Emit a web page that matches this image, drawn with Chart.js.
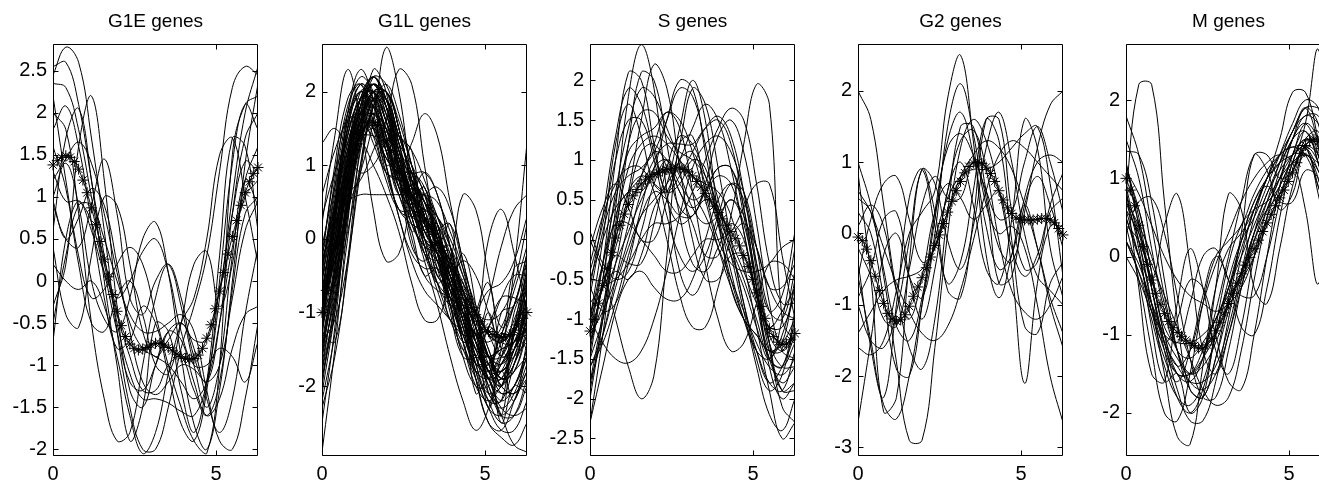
<!DOCTYPE html>
<html>
<head>
<meta charset="utf-8">
<script src="https://cdn.jsdelivr.net/npm/chart.js@4.4.0/dist/chart.umd.min.js"></script>
<style>
  html, body { margin: 0; padding: 0; background: #fff; overflow: hidden; }
  #wrap { position: relative; width: 1319px; height: 487px; overflow: hidden; }
  #wrap canvas { position: absolute; top: 0; }
</style>
</head>
<body>
<div id="wrap"></div>
<script>
// x grid of the thin curves and of the starred mean curve
const xsCurve = [0, 0.393, 0.785, 1.178, 1.571, 1.963, 2.356, 2.749, 3.142, 3.534, 3.927, 4.32, 4.712, 5.105, 5.498, 5.89, 6.283];
const xsMean = [0, 0.131, 0.262, 0.393, 0.524, 0.654, 0.785, 0.916, 1.047, 1.178, 1.309, 1.44, 1.571, 1.702, 1.833, 1.963,
  2.094, 2.225, 2.356, 2.487, 2.618, 2.749, 2.88, 3.011, 3.142, 3.272, 3.403, 3.534, 3.665, 3.796, 3.927, 4.058,
  4.189, 4.32, 4.451, 4.581, 4.712, 4.843, 4.974, 5.105, 5.236, 5.367, 5.498, 5.629, 5.76, 5.89, 6.021, 6.152, 6.283];

const panelTitles = ['G1E genes', 'G1L genes', 'S genes', 'G2 genes', 'M genes'];
const xTickValues = [0, 5];
const yTickLists = [
  [-2, -1.5, -1, -0.5, 0, 0.5, 1, 1.5, 2, 2.5],
  [-2, -1, 0, 1, 2],
  [-2.5, -2, -1.5, -1, -0.5, 0, 0.5, 1, 1.5, 2],
  [-3, -2, -1, 0, 1, 2],
  [-2, -1, 0, 1, 2]
];
const yMins = [-2.08, -2.95, -2.72, -3.12, -2.55];
const yMaxs = [2.82, 2.65, 2.46, 2.66, 2.72];

// G1E
const g1eMean = [1.38, 1.43, 1.47, 1.49, 1.47, 1.42, 1.33, 1.2, 1.05, 0.87, 0.67, 0.47, 0.26, 0.05, -0.16, -0.36,
  -0.53, -0.66, -0.75, -0.8, -0.82, -0.81, -0.79, -0.76, -0.74, -0.74, -0.76, -0.79, -0.83, -0.87, -0.9, -0.92,
  -0.93, -0.92, -0.88, -0.8, -0.68, -0.52, -0.33, -0.12, 0.1, 0.32, 0.53, 0.72, 0.9, 1.05, 1.18, 1.28, 1.35];
const g1eCurves = [
  [2.45, 2.78, 2.6, 1.7, 0.6, -0.6, -1.5, -2.0, -2.0, -1.5, -0.8, -0.3, 0.3, 1.3, 2.3, 2.55, 2.45],
  [2.55, 2.6, 2.1, 1.2, 0.3, -0.5, -1.1, -1.4, -1.4, -1.45, -1.55, -1.6, -1.2, -0.2, 1.0, 2.0, 2.55],
  [1.8, 2.08, 1.6, 0.7, -0.2, -0.8, -0.7, -0.3, -0.5, -1.1, -1.7, -1.9, -1.3, 0.0, 1.4, 2.1, 1.8],
  [0.6, 1.7, 2.05, 1.2, 0.0, -1.0, -1.9, -1.5, -0.5, -0.6, -1.3, -1.8, -1.2, 0.3, 1.7, 1.6, 0.6],
  [-0.3, 0.2, 1.6, 2.2, 1.2, -0.3, -1.3, -1.5, -1.0, -0.6, -0.7, -1.2, -1.6, -1.4, -0.8, -0.4, -0.3],
  [1.2, 1.45, 1.65, 1.4, 0.8, 0.1, -0.5, -0.8, -0.9, -1.0, -1.2, -1.4, -1.2, -0.5, 0.4, 1.0, 1.2],
  [0.9, 0.5, 0.4, 0.9, 1.45, 0.8, -0.2, -0.4, 0.0, 0.2, -0.3, -1.0, -1.5, -1.0, 0.3, 1.2, 0.9],
  [0.95, 0.5, 0.75, 1.1, 0.9, 0.2, -0.6, -1.2, -1.35, -1.2, -1.0, -1.05, -1.2, -1.0, -0.2, 0.6, 0.95],
  [0.4, -0.4, -0.55, 0.3, 1.0, 0.9, 0.2, -0.6, -0.9, -0.7, -0.5, -0.8, -1.4, -1.8, -1.4, -0.4, 0.4],
  [-0.72, 0.5, 0.95, 0.6, 0.1, -0.2, 0.0, 0.35, 0.5, 0.1, -0.6, -1.0, -1.0, -0.8, -0.9, -1.2, -0.72],
  [1.0, 1.4, 0.9, 0.0, -0.45, -0.6, -0.2, 0.5, 0.7, 0.1, -0.9, -1.7, -2.0, -1.3, -0.1, 0.8, 1.0],
  [1.6, 1.1, 0.2, -0.5, -0.6, -0.2, 0.0, -0.4, -1.0, -1.1, -0.5, 0.2, 0.35, -0.3, 0.2, 1.2, 1.6],
  [2.2, 1.2, 0.3, -0.2, -0.1, 0.2, 0.4, 0.2, -0.4, -1.0, -1.5, -1.9, -2.05, -1.0, 1.5, 2.1, 2.2],
  [2.0, 1.8, 0.8, -0.5, -1.4, -1.9, -1.8, -1.0, -0.2, 0.2, -0.2, -0.9, -1.2, -0.5, 0.8, 1.7, 2.0],
  [0.2, 0.0, -0.1, 0.0, -0.3, -0.9, -1.6, -2.05, -1.8, -1.1, -0.5, -0.2, 0.5, 1.5, 1.7, 1.0, 0.2],
  [2.35, 2.3, 1.8, 1.0, 0.2, -0.4, -0.9, -1.3, -1.3, -1.0, -0.9, -1.3, -1.6, -1.2, 0.0, 1.4, 2.35],
  [-0.5, 0.3, 0.9, 0.9, 0.5, 0.0, -0.4, -0.6, -0.6, -0.5, -0.4, -0.6, -1.3, -1.9, -2.0, -1.4, -0.5],
  [1.3, 0.95, 0.95, 0.7, 0.1, -0.6, -1.2, -1.3, -1.0, -0.6, -0.5, -0.7, -0.7, -0.1, 0.8, 1.42, 1.3]
];

// G1L
const g1lMean = [-1.0, -0.7, -0.4, -0.1, 0.2, 0.5, 0.8, 1.05, 1.25, 1.42, 1.52, 1.58, 1.58, 1.54, 1.45, 1.33,
  1.2, 1.06, 0.93, 0.8, 0.68, 0.57, 0.47, 0.37, 0.27, 0.17, 0.06, -0.05, -0.16, -0.27, -0.38, -0.49,
  -0.6, -0.71, -0.82, -0.93, -1.03, -1.12, -1.2, -1.26, -1.3, -1.33, -1.34, -1.33, -1.3, -1.24, -1.17, -1.08, -1.0];
const g1lCurves = [
  [-1.0, 0.3, 1.4, 1.9, 1.9, 1.4, 0.8, 0.4, 0.1, -0.2, -0.6, -1.0, -1.4, -1.7, -1.8, -1.5, -1.0],
  [-0.6, 0.7, 1.7, 2.2, 2.0, 1.4, 0.7, 0.2, -0.1, -0.3, -0.6, -1.1, -1.6, -1.9, -1.8, -1.3, -0.6],
  [-1.5, -0.4, 0.9, 1.8, 2.1, 1.8, 1.1, 0.4, 0.0, -0.1, -0.3, -0.7, -1.3, -1.9, -2.2, -2.0, -1.5],
  [-2.0, -0.8, 0.6, 1.6, 2.0, 1.9, 1.4, 0.8, 0.3, 0.0, -0.3, -0.8, -1.4, -2.0, -2.4, -2.4, -2.0],
  [-0.3, 1.0, 1.9, 2.1, 1.6, 0.9, 0.4, 0.2, 0.1, -0.2, -0.7, -1.3, -1.7, -1.7, -1.4, -0.9, -0.3],
  [-1.2, 0.0, 1.2, 1.9, 2.2, 1.9, 1.2, 0.5, 0.0, -0.2, -0.4, -0.6, -1.0, -1.5, -1.9, -1.8, -1.2],
  [-0.9, -0.1, 0.9, 1.6, 1.7, 1.3, 0.8, 0.5, 0.4, 0.2, -0.2, -0.8, -1.4, -1.7, -1.7, -1.4, -0.9],
  [-2.9, -1.5, 0.2, 1.5, 2.0, 1.7, 1.0, 0.3, -0.2, -0.5, -0.8, -1.2, -1.6, -2.0, -2.4, -2.8, -2.9],
  [1.3, 1.5, 1.2, 0.9, 1.0, 1.3, 1.4, 1.0, 0.3, -0.4, -0.9, -1.3, -1.7, -1.8, -1.5, -0.4, 1.3],
  [-0.5, 0.2, 0.5, 0.6, 0.6, 0.6, 0.6, 0.6, 0.6, 0.5, 0.1, -0.4, -0.9, -1.3, -1.4, -1.1, -0.5],
  [-1.3, -1.4, -0.3, 1.3, 2.3, 2.0, 0.9, -0.1, -0.3, 0.1, 0.2, -0.4, -1.2, -1.8, -2.0, -1.7, -1.3],
  [0.2, 1.4, 2.3, 1.6, 0.4, -0.3, -0.2, 0.5, 0.9, 0.6, -0.1, -0.7, -1.0, -1.1, -1.0, -0.6, 0.2],
  [-1.0, -0.3, 0.4, 0.9, 1.6, 2.6, 2.0, 0.8, 0.1, -0.2, -0.5, -0.8, -1.2, -1.6, -1.8, -1.5, -1.0],
  [-0.7, 0.2, 0.6, 0.8, 1.2, 1.6, 2.3, 2.1, 1.0, 0.0, -0.6, -0.9, -1.1, -1.3, -1.4, -1.2, -0.7],
  [-1.8, -0.9, 0.4, 1.3, 1.5, 1.2, 0.9, 1.3, 1.7, 1.4, 0.5, -0.3, -1.0, -1.6, -2.0, -2.1, -1.8],
  [-0.2, 0.4, 1.0, 1.5, 1.7, 1.5, 1.0, 0.4, -0.1, -0.6, -0.3, 0.6, 0.4, -0.5, -1.2, -0.9, -0.2],
  [-1.0, -0.6, 0.5, 1.7, 2.2, 1.9, 1.2, 0.6, 0.2, -0.3, -0.9, -1.4, -1.2, 0.0, 0.4, -0.2, -1.0],
  [-2.2, -1.3, 0.0, 1.2, 1.9, 2.0, 1.5, 0.7, 0.0, -0.6, -1.1, -1.5, -1.9, -2.3, -2.6, -2.6, -2.2],
  [-0.4, 0.5, 1.2, 1.5, 1.4, 1.1, 0.9, 0.8, 0.5, 0.0, -0.6, -1.1, -1.4, -1.6, -1.7, -1.3, -0.4],
  [-1.1, 0.3, 1.7, 2.3, 1.9, 1.0, 0.4, 0.3, 0.4, 0.2, -0.3, -1.0, -1.7, -2.2, -2.2, -1.7, -1.1],
  [-1.6, -0.5, 0.9, 1.8, 1.9, 1.5, 1.0, 0.7, 0.5, 0.1, -0.6, -1.4, -2.0, -2.2, -2.0, -1.8, -1.6],
  [-0.8, -0.6, 0.1, 1.0, 1.8, 2.1, 1.7, 1.0, 0.3, -0.3, -0.7, -1.0, -1.3, -1.6, -1.6, -1.2, -0.8],
  [0.3, 0.9, 1.3, 1.4, 1.4, 1.3, 1.0, 0.5, -0.1, -0.7, -1.1, -1.2, -1.0, -0.7, -0.6, -0.3, 0.3],
  [-2.5, -1.2, 0.5, 1.7, 2.1, 1.8, 1.2, 0.6, 0.1, -0.2, -0.6, -1.2, -1.9, -2.5, -2.7, -2.8, -2.5],
  [-1.2, -0.1, 1.0, 1.6, 1.5, 1.1, 0.9, 0.9, 0.7, 0.2, -0.5, -1.1, -1.5, -1.6, -1.5, -1.4, -1.2],
  [-0.9, 0.5, 1.5, 1.7, 1.3, 0.9, 0.8, 0.8, 0.5, -0.2, -1.0, -1.6, -1.6, -1.2, -0.8, -0.8, -0.9],
  [-1.4, -1.1, -0.3, 0.9, 1.8, 2.0, 1.5, 0.8, 0.5, 0.3, -0.1, -0.7, -1.4, -1.8, -1.8, -1.6, -1.4],
  [-0.1, 0.7, 1.4, 1.9, 2.0, 1.6, 0.8, 0.0, -0.5, -0.7, -0.8, -1.0, -1.3, -1.4, -1.2, -0.7, -0.1],
  [-1.7, -0.7, 0.7, 1.8, 2.2, 1.8, 0.9, 0.2, -0.1, -0.2, -0.5, -1.1, -1.9, -2.5, -2.6, -2.2, -1.7],
  [-1.0, 0.0, 0.9, 1.4, 1.6, 1.5, 1.4, 1.2, 0.8, 0.3, -0.1, -0.5, -1.0, -1.5, -1.9, -1.7, -1.0],
  [-0.5, 0.8, 1.8, 2.1, 1.7, 1.0, 0.3, -0.2, -0.4, -0.4, -0.6, -1.0, -1.3, -1.2, -0.8, -0.5, -0.5],
  [-1.9, -1.0, 0.3, 1.4, 1.9, 1.9, 1.4, 0.9, 0.5, 0.3, 0.0, -0.5, -1.1, -1.6, -2.0, -2.1, -1.9],
  [-1.3, 0.2, 1.3, 1.7, 1.4, 0.8, 0.4, 0.4, 0.6, 0.7, 0.4, -0.3, -1.0, -1.6, -1.9, -1.8, -1.3],
  [-0.7, -0.2, 0.8, 1.8, 2.1, 1.8, 1.3, 1.0, 0.6, 0.0, -0.7, -1.4, -1.8, -1.7, -1.3, -0.9, -0.7],
  [-2.3, -1.6, -0.4, 1.0, 1.8, 1.9, 1.4, 0.9, 0.5, 0.1, -0.4, -1.0, -1.5, -1.9, -2.3, -2.4, -2.3],
  [-1.1, -0.2, 0.7, 1.5, 2.0, 2.0, 1.5, 0.7, -0.1, -0.6, -0.9, -0.9, -1.0, -1.3, -1.6, -1.5, -1.1],
  [-0.3, 0.3, 1.1, 1.7, 1.9, 1.6, 1.0, 0.3, -0.2, -0.3, -0.3, -0.6, -1.2, -1.8, -2.0, -1.2, -0.3],
  [-1.6, -0.4, 1.1, 2.0, 2.0, 1.4, 0.7, 0.4, 0.3, 0.1, -0.4, -1.0, -1.6, -2.1, -2.3, -2.1, -1.6],
  [-0.9, -0.5, 0.4, 1.3, 1.7, 1.5, 1.1, 0.9, 0.9, 0.6, -0.1, -0.9, -1.5, -1.8, -1.6, -1.2, -0.9],
  [-1.2, 0.4, 1.6, 2.0, 1.6, 1.1, 0.9, 0.9, 0.6, -0.1, -0.9, -1.6, -2.0, -2.0, -1.7, -1.4, -1.2],
  [-1.5, -0.6, 0.6, 1.5, 1.8, 1.5, 0.9, 0.3, -0.3, -0.9, -1.6, -2.2, -2.6, -2.3, -1.6, -1.3, -1.5],
  [-1.0, 0.1, 1.0, 1.3, 1.0, 0.6, 0.1, -0.6, -1.1, -1.1, -0.6, -0.3, -0.5, -1.0, -1.4, -1.4, -1.0],
  [0.6, 1.2, 1.6, 1.7, 1.5, 1.0, 0.3, -0.3, -0.7, -0.9, -1.1, -1.3, -1.3, -0.8, -0.1, 0.4, 0.6],
  [-0.8, 0.0, 1.1, 1.9, 2.0, 1.6, 1.2, 0.8, 0.4, -0.2, -0.8, -1.4, -1.8, -1.9, -1.7, -1.3, -0.8],
  [-0.9, 0.2, 1.2, 1.8, 1.8, 1.3, 0.7, 0.6, 0.3, -0.5, -0.6, -0.2, -0.9, -2.1, -2.2, -1.2, -0.9],
  [-1.3, -0.2, 1.0, 1.9, 2.1, 1.7, 1.0, 0.4, 0.0, -0.3, -0.8, -1.3, -1.6, -1.6, -1.5, -1.4, -1.3],
  [-0.6, 0.5, 1.5, 2.0, 1.8, 1.2, 0.6, 0.1, -0.5, -0.4, -0.9, -1.5, -1.0, -0.6, -1.5, -1.6, -0.6],
  [-1.8, -0.6, 0.8, 1.7, 2.0, 1.6, 1.0, 0.5, 0.3, 0.0, -0.5, -1.1, -1.8, -2.3, -2.4, -2.2, -1.8],
  [-1.0, -0.2, 0.8, 1.6, 1.9, 1.8, 1.3, 0.5, 0.6, 0.1, -0.9, -0.8, -1.5, -1.0, -1.6, -1.4, -1.0],
  [-0.4, 0.6, 1.6, 2.1, 1.9, 1.2, 0.6, 0.3, 0.2, 0.0, -0.4, -0.9, -1.4, -1.8, -1.9, -1.3, -0.4],
  [-1.4, -0.4, 0.7, 1.4, 1.6, 1.0, 1.1, 0.6, 0.7, 0.0, -0.2, -1.3, -1.3, -2.3, -1.8, -2.2, -1.4],
  [-0.8, 0.4, 1.4, 1.9, 2.0, 1.6, 1.1, 0.6, 0.2, -0.2, -0.5, -0.8, -1.2, -1.6, -1.8, -1.5, -0.8],
  [-2.1, -1.0, 0.4, 1.5, 2.0, 1.8, 1.2, 0.9, 0.0, -0.2, -1.1, -0.8, -1.7, -1.7, -2.5, -2.0, -2.1],
  [-1.1, 0.0, 1.1, 1.8, 2.1, 1.9, 1.3, 0.5, -0.2, -0.6, -0.8, -0.9, -1.2, -1.6, -1.9, -1.7, -1.1],
  [-0.5, -0.1, 0.7, 1.5, 1.9, 1.7, 1.1, 0.3, 0.6, -0.1, 0.2, -0.8, -1.0, -1.9, -1.3, -1.3, -0.5],
  [-1.6, -0.8, 0.3, 1.3, 1.9, 2.0, 1.6, 1.0, 0.4, -0.1, -0.5, -0.9, -1.4, -1.9, -2.1, -2.0, -1.6],
  [-0.2, 0.9, 1.7, 1.9, 1.5, 0.9, 0.8, 0.1, 0.3, -0.5, -0.4, -1.4, -1.3, -1.9, -1.0, -0.9, -0.2],
  [-1.2, -0.5, 0.5, 1.5, 2.2, 2.1, 1.5, 0.8, 0.3, 0.0, -0.3, -0.7, -1.2, -1.6, -1.7, -1.5, -1.2],
  [-0.7, 0.3, 1.3, 1.7, 1.6, 1.2, 0.6, 0.8, 0.1, 0.2, -0.9, -1.0, -2.1, -1.9, -2.4, -1.2, -0.7],
  [-1.5, -0.3, 1.0, 1.9, 2.2, 1.8, 1.1, 0.5, 0.0, -0.4, -0.7, -1.0, -1.3, -1.7, -2.1, -2.0, -1.5],
  [-0.9, 0.1, 1.1, 1.6, 1.7, 1.4, 1.1, 0.5, 0.7, -0.1, -0.1, -1.0, -1.0, -1.8, -1.3, -1.5, -0.9],
  [-1.9, -0.9, 0.5, 1.6, 2.1, 1.9, 1.3, 0.7, 0.2, -0.2, -0.6, -1.1, -1.7, -2.2, -2.5, -2.4, -1.9],
  [-0.3, 0.4, 1.2, 1.7, 1.8, 1.5, 0.8, 0.9, 0.1, 0.1, -0.8, -0.9, -1.7, -1.2, -1.3, -0.4, -0.3],
  [-1.2, 0.2, 1.5, 2.1, 1.9, 1.3, 0.7, 0.4, 0.2, -0.1, -0.6, -1.2, -1.8, -2.1, -2.0, -1.6, -1.2],
  [-0.6, -0.3, 0.5, 1.4, 2.0, 2.0, 1.4, 1.2, 0.2, 0.2, -0.7, -0.7, -1.6, -1.6, -2.0, -1.0, -0.6],
  [-1.0, 0.3, 1.5, 2.0, 1.8, 1.3, 0.9, 0.7, 0.6, 0.3, -0.3, -1.0, -1.6, -1.9, -1.9, -1.5, -1.0]
];

// S
const sMean = [-1.15, -1.0, -0.8, -0.58, -0.36, -0.16, 0.02, 0.18, 0.32, 0.44, 0.55, 0.63, 0.7, 0.75, 0.79, 0.82,
  0.84, 0.86, 0.88, 0.89, 0.9, 0.9, 0.88, 0.85, 0.8, 0.73, 0.66, 0.58, 0.5, 0.42, 0.34, 0.26,
  0.18, 0.1, 0.01, -0.08, -0.2, -0.34, -0.5, -0.67, -0.84, -0.99, -1.12, -1.22, -1.29, -1.32, -1.31, -1.26, -1.18];
const sCurves = [
  [-1.8, -0.9, 0.4, 1.8, 2.45, 1.9, 0.6, -0.4, -0.7, -0.4, 0.2, 0.5, 0.2, -0.6, -1.4, -1.9, -1.8],
  [-1.2, -0.3, 1.0, 2.1, 2.0, 1.2, 0.5, 0.2, 0.3, 0.5, 0.4, -0.1, -0.8, -1.4, -1.8, -1.6, -1.2],
  [-0.9, -0.6, 0.1, 1.2, 2.1, 2.0, 1.2, 0.3, -0.3, -0.4, -0.1, 0.2, 0.0, -0.7, -1.5, -1.6, -0.9],
  [-0.5, -0.5, -0.1, 0.6, 1.5, 2.2, 1.9, 0.9, 0.0, -0.5, -0.5, -0.2, -0.2, -0.7, -1.4, -1.3, -0.5],
  [-1.4, -0.5, 0.3, 0.6, 0.6, 0.9, 1.5, 2.0, 1.9, 1.1, 0.2, -0.5, -1.0, -1.4, -1.8, -1.9, -1.4],
  [-1.0, -0.6, -0.4, -0.5, -0.2, 0.4, 0.7, 1.4, 2.0, 1.5, 0.3, -0.6, -1.0, -1.2, -1.4, -1.3, -1.0],
  [-0.6, 0.3, 1.3, 1.9, 1.7, 1.1, 0.6, 0.7, 1.0, 0.9, 0.3, -0.4, -1.0, -1.4, -1.5, -1.2, -0.6],
  [-1.3, -0.8, -0.3, 0.1, 0.5, 0.8, 0.9, 0.6, 0.2, -0.2, -0.2, 0.3, 1.2, 1.95, 1.7, -1.0, -1.3],
  [-1.6, -1.2, -0.6, -0.1, 0.3, 0.5, 0.7, 1.0, 1.4, 1.7, 1.5, 0.9, 0.1, -0.8, -1.5, -1.8, -1.6],
  [-0.8, -0.6, -0.5, -0.3, 0.0, 0.2, 0.2, 0.3, 0.6, 1.0, 1.4, 1.65, 1.5, 0.7, -0.3, -0.8, -0.8],
  [-1.9, -1.0, 0.0, 0.6, 0.8, 0.7, 0.6, 0.8, 1.1, 1.4, 1.55, 1.3, 0.6, -0.4, -1.3, -1.9, -1.9],
  [-1.5, -1.0, -0.3, 0.5, 1.1, 1.2, 0.9, 0.4, 0.3, 0.7, 1.3, 1.5, 1.1, 0.2, -0.8, -1.4, -1.5],
  [-1.1, -0.3, 0.5, 1.1, 1.3, 1.4, 1.6, 1.5, 1.1, 0.5, -0.1, -0.6, -1.0, -1.2, -1.4, -1.4, -1.1],
  [0.0, -0.4, -1.0, -1.6, -2.0, -1.7, -0.2, 1.2, 1.3, 0.6, 0.0, -0.3, -0.4, -0.4, -0.3, -0.1, 0.0],
  [-1.0, -1.3, -1.5, -1.55, -1.4, -1.0, -0.4, 0.3, 0.9, 1.2, 1.3, 1.1, 0.6, -0.1, -0.6, -0.9, -1.0],
  [-0.3, 0.3, 0.7, 0.9, 0.9, 0.6, 0.0, -0.7, -1.1, -1.1, -0.6, 0.0, 0.2, -0.1, -0.6, -0.6, -0.3],
  [-0.5, 0.0, 0.4, 0.6, 0.8, 1.2, 1.6, 1.4, 0.6, -0.3, -1.0, -1.4, -1.3, -0.8, -0.3, -0.3, -0.5],
  [-2.3, -1.6, -0.9, -0.5, -0.4, -0.6, -0.75, -0.75, -0.5, 0.0, 0.5, 0.7, 0.5, -0.3, -1.3, -2.1, -2.3],
  [-1.0, -0.3, 0.2, 0.2, 0.0, -0.2, -0.4, -0.4, -0.2, 0.0, 0.0, 0.1, 0.4, 0.7, 0.7, -0.2, -1.0],
  [-0.1, 0.4, 0.7, 0.4, 0.0, 0.0, 0.5, 1.0, 1.1, 0.7, 0.2, -0.2, -0.6, -1.1, -1.5, -1.0, -0.1],
  [-2.0, -1.0, 0.2, 1.2, 1.6, 1.6, 1.3, 1.1, 1.0, 0.8, 0.4, -0.2, -0.9, -1.6, -2.2, -2.4, -2.0],
  [-1.5, -0.5, 0.6, 1.4, 1.9, 1.8, 1.4, 1.0, 0.6, 0.3, -0.1, -0.5, -0.9, -1.3, -1.6, -1.7, -1.5],
  [-2.3, -1.2, 0.1, 0.9, 1.2, 1.3, 1.2, 1.0, 0.8, 0.7, 0.6, 0.3, -0.3, -1.1, -1.9, -2.5, -2.3],
  [-0.7, 0.1, 0.6, 0.8, 0.9, 1.1, 1.5, 1.9, 1.8, 1.2, 0.5, 0.0, -0.4, -0.8, -1.1, -1.1, -0.7],
  [-1.2, -0.9, -0.5, 0.0, 0.6, 1.0, 1.2, 1.2, 1.2, 1.4, 1.5, 1.2, 0.4, -0.5, -1.2, -1.4, -1.2],
  [0.1, -0.3, -0.5, -0.4, 0.1, 0.7, 1.0, 0.8, 0.4, 0.2, 0.3, 0.5, 0.3, -0.3, -0.9, -0.7, 0.1],
  [-1.8, -1.2, -0.5, 0.2, 0.8, 1.1, 1.0, 0.6, 0.4, 0.6, 0.9, 0.9, 0.4, -0.6, -1.6, -2.0, -1.8],
  [-1.3, -0.6, -0.2, -0.3, -0.3, 0.2, 0.9, 1.3, 1.2, 0.8, 0.3, -0.1, -0.5, -1.0, -1.5, -1.6, -1.3],
  [-0.6, -0.9, -0.8, -0.3, 0.4, 0.9, 1.0, 0.7, 0.5, 0.6, 0.8, 0.7, 0.1, -0.7, -1.1, -0.9, -0.6],
  [-1.0, 0.0, 1.2, 1.7, 1.3, 0.7, 0.6, 1.2, 1.9, 1.7, 0.9, 0.0, -0.8, -1.5, -1.9, -1.7, -1.0],
  [-1.6, -1.3, -0.8, -0.2, 0.3, 0.6, 0.5, 0.3, 0.3, 0.6, 0.9, 0.9, 0.3, -0.6, -1.3, -1.6, -1.6],
  [-0.4, 0.2, 1.0, 1.5, 1.5, 1.0, 0.3, -0.2, -0.4, -0.2, 0.3, 0.7, 0.6, -0.1, -0.9, -1.0, -0.4]
];

// G2
const g2Mean = [-0.05, -0.1, -0.22, -0.38, -0.6, -0.8, -0.98, -1.12, -1.2, -1.23, -1.21, -1.14, -1.02, -0.88, -0.75, -0.62,
  -0.48, -0.33, -0.17, -0.02, 0.14, 0.3, 0.45, 0.6, 0.73, 0.85, 0.94, 0.99, 1.0, 0.98, 0.93, 0.84,
  0.73, 0.6, 0.47, 0.36, 0.28, 0.22, 0.2, 0.19, 0.19, 0.19, 0.2, 0.21, 0.21, 0.19, 0.15, 0.07, -0.02];
const g2Curves = [
  [2.0, 1.6, 0.4, -0.8, -1.6, -1.9, -1.2, 0.3, 1.5, 1.5, 0.6, -0.2, -0.4, 0.3, 1.2, 1.8, 2.0],
  [1.0, 0.4, -0.5, -1.3, -1.5, -0.9, 0.2, 1.3, 1.7, 1.1, 0.1, -0.5, -0.3, 0.5, 1.0, 1.1, 1.0],
  [-1.6, -1.7, -1.5, -0.8, 0.0, 0.3, 0.6, 1.9, 2.5, 1.3, -0.3, -0.9, -0.3, 0.4, -0.2, -1.0, -1.6],
  [-2.65, -1.5, -0.3, 0.0, -0.6, -0.9, 0.0, 1.5, 2.1, 1.4, 0.4, 0.0, 0.1, -0.2, -1.0, -2.0, -2.65],
  [0.5, 0.3, -0.6, -1.8, -2.9, -2.9, -1.6, 0.0, 1.2, 1.6, 1.3, 0.6, -0.2, -0.6, -0.3, 0.3, 0.5],
  [0.85, -0.6, -2.5, -2.3, -0.4, 0.9, 0.3, -0.8, -0.9, 0.2, 1.6, 1.6, 0.3, -0.5, -0.4, 0.4, 0.85],
  [-0.4, -1.6, -2.3, -1.0, 0.5, 0.9, 0.1, -0.7, -0.4, 0.6, 1.6, 1.3, -0.1, -1.3, -1.4, -0.7, -0.4],
  [0.3, 0.0, -0.9, -1.9, -2.0, -1.0, 0.3, 1.2, 1.4, 1.1, 0.6, 0.2, 0.3, 1.0, 1.5, 1.0, 0.3],
  [0.1, 0.4, 0.1, -0.8, -1.2, -0.6, 0.3, 0.7, 0.5, 0.2, 0.4, 0.6, -0.5, -2.1, -0.7, 0.1, 0.1],
  [0.6, 0.3, -0.2, -0.7, -1.1, -1.4, -1.5, -1.3, -0.8, -0.1, 0.6, 1.1, 1.3, 1.2, 1.0, 0.8, 0.6],
  [-1.4, -1.1, -0.8, -0.65, -0.6, -0.5, -0.2, 0.3, 0.8, 1.1, 1.3, 1.2, 0.9, 0.4, -0.2, -0.9, -1.4],
  [-0.9, -0.5, 0.2, 0.3, -0.6, -1.2, -0.5, 0.6, 1.0, 0.4, -0.5, -0.7, 0.2, 1.6, 1.2, -0.2, -0.9],
  [-0.6, 0.2, 0.7, 0.8, 0.2, -0.4, -0.2, 0.6, 1.3, 1.45, 0.9, -0.1, -0.8, -1.1, -1.2, -1.0, -0.6],
  [-1.0, -1.5, -1.6, -1.1, -0.1, 0.9, 0.7, -0.1, -0.5, 0.1, 1.2, 1.7, 1.0, 0.0, -0.6, -0.8, -1.0],
  [-0.2, -0.6, -1.2, -1.3, -0.5, 0.4, 0.8, 0.5, 0.5, 1.0, 0.5, -0.7, -0.6, 0.4, 0.8, 0.4, -0.2],
  [-0.6, -1.5, -2.4, -2.6, -2.0, -1.0, -0.1, 0.5, 0.8, 0.9, 0.9, 1.0, 1.2, 1.4, 1.5, 0.7, -0.6]
];

// M
const mMean = [1.0, 0.85, 0.65, 0.4, 0.13, -0.1, -0.3, -0.47, -0.61, -0.73, -0.83, -0.91, -0.97, -1.02, -1.07, -1.11,
  -1.14, -1.17, -1.17, -1.13, -1.05, -0.95, -0.84, -0.72, -0.6, -0.47, -0.34, -0.22, -0.11, -0.01, 0.1, 0.21,
  0.32, 0.43, 0.54, 0.65, 0.75, 0.85, 0.96, 1.07, 1.2, 1.32, 1.42, 1.48, 1.5, 1.47, 1.38, 1.22, 1.02];
const mCurves = [
  [0.8, 2.2, 2.2, 0.7, -0.8, -1.7, -1.8, -1.3, -0.7, -0.2, 0.3, 0.7, 1.0, 1.2, 1.3, 1.1, 0.8],
  [1.8, 1.3, 0.4, -0.5, -1.2, -1.6, -1.7, -1.5, -1.0, -0.4, 0.2, 0.7, 1.2, 1.6, 1.9, 1.9, 1.8],
  [1.35, 1.3, 0.7, -0.3, -1.2, -1.7, -1.8, -1.3, -0.5, 0.2, 0.7, 1.0, 1.2, 1.5, 1.8, 1.7, 1.35],
  [0.5, 0.0, -0.3, 0.4, 0.8, -0.1, -1.2, -1.5, -1.0, -0.3, 0.3, 0.6, 0.8, 1.1, 1.4, 1.2, 0.5],
  [0.9, -0.4, -1.5, -1.6, -0.6, 0.1, -0.4, -1.2, -1.5, -0.9, 0.0, 0.6, 1.0, 1.5, 1.9, 1.7, 0.9],
  [0.6, 0.0, -0.7, -1.3, -1.6, -1.2, -0.5, 0.0, -0.3, -0.9, -1.0, -0.4, 0.5, 1.2, 1.5, 1.3, 0.6],
  [0.2, -0.2, -0.6, -1.0, -1.3, -1.5, -1.3, -0.4, 0.8, 0.6, -0.4, -0.6, 0.1, 0.9, 1.3, 1.0, 0.2],
  [1.1, 0.6, -0.2, -1.0, -1.5, -1.6, -1.3, -0.7, 0.0, 0.7, 1.3, 1.3, 1.0, 1.1, 1.5, 1.6, 1.1],
  [0.2, -0.2, -0.8, -1.4, -1.8, -1.9, -1.6, -1.0, -0.4, 0.2, 0.7, 0.9, 0.7, 0.7, 1.1, 1.0, 0.2],
  [0.8, 0.3, -0.4, -1.1, -1.7, -2.1, -2.1, -1.6, -0.8, 0.0, 0.6, 1.0, 1.5, 2.1, 2.1, 1.5, 0.8],
  [1.2, 0.5, -0.4, -1.2, -1.8, -2.0, -1.7, -1.0, -0.3, 0.2, 0.5, 0.9, 1.3, 1.7, 2.0, 1.9, 1.2],
  [1.2, 0.4, -0.4, -1.1, -1.5, -1.5, -1.2, -0.8, -0.5, -0.3, 0.0, 0.4, 0.8, 1.2, 1.7, 2.65, 1.2],
  [0.9, 0.6, -0.2, -1.0, -1.4, -1.2, -0.6, -0.1, 0.3, 0.7, 1.0, 1.2, 1.3, 1.2, 0.6, -0.35, 0.9],
  [0.7, 0.2, -0.6, -1.5, -2.3, -2.4, -1.4, -0.4, 0.1, 0.3, 0.6, 1.0, 1.3, 1.4, 1.4, 1.1, 0.7],
  [0.4, -0.3, -1.2, -2.0, -2.1, -1.5, -0.6, 0.0, 0.2, 0.4, 0.8, 1.1, 1.3, 1.4, 1.3, 0.9, 0.4],
  [0.6, 0.3, -0.1, -0.5, -0.9, -1.3, -1.7, -1.9, -1.8, -1.2, -0.3, 0.5, 1.1, 1.5, 1.6, 1.2, 0.6],
  [1.1, 0.8, 0.4, 0.0, -0.3, -0.5, -0.6, -0.7, -0.6, -0.4, 0.0, 0.5, 0.9, 1.2, 1.3, 1.2, 1.1],
  [0.4, 0.2, -0.3, -0.9, -1.1, -0.6, 0.0, 0.1, -0.3, -0.5, -0.5, 0.0, 0.7, 1.3, 1.6, 1.2, 0.4],
  [0.9, 0.2, -0.6, -1.2, -1.5, -1.5, -1.3, -1.0, -0.6, -0.2, 0.2, 0.6, 1.0, 1.3, 1.5, 1.4, 0.9],
  [0.3, 0.7, 0.75, 0.3, -0.5, -1.3, -1.8, -1.8, -1.2, -0.4, 0.3, 0.8, 1.1, 1.3, 1.4, 0.9, 0.3],
  [0.5, 0.0, -0.7, -1.1, -0.8, -0.3, -0.4, -1.0, -1.6, -1.7, -1.0, 0.0, 0.9, 1.5, 1.7, 1.3, 0.5],
  [0.7, 0.4, 0.0, -0.6, -1.2, -1.5, -1.4, -1.1, -0.6, 0.3, 1.3, 1.1, 0.6, 0.8, 1.4, 1.3, 0.7],
  [0.2, -0.1, -0.6, -1.1, -1.4, -1.6, -1.6, -1.4, -0.9, -0.2, 0.5, 1.0, 1.3, 1.6, 1.9, 1.4, 0.2],
  [1.5, 1.0, 0.1, -0.7, -1.2, -1.3, -1.1, -0.8, -0.4, 0.0, 0.4, 0.8, 1.2, 1.6, 1.8, 1.8, 1.5],
  [0.8, 0.1, -0.9, -1.6, -1.5, -2.0, -1.8, -0.9, -0.1, 0.4, 0.6, 0.7, 0.9, 1.3, 1.7, 1.5, 0.8],
  [0.0, -0.3, -0.7, -1.0, -1.1, -1.1, -1.0, -0.8, -0.4, 0.1, 0.6, 1.0, 1.2, 1.3, 1.4, 0.8, 0.0]
];

const panelCurves = [g1eCurves, g1lCurves, sCurves, g2Curves, mCurves];
const panelMeans = [g1eMean, g1lMean, sMean, g2Mean, mMean];

// layout (pixels)
const BOX_LEFTS = [53, 322, 590, 858, 1126];
const BOX_W = 205;
const AXIS_W = 53;
const PAD_R = 10;
const CANVAS_H = 487;
const BOX_BOTTOM = 456;
const FONT = "'Liberation Sans', Arial, Helvetica, sans-serif";

// box round the plot area, with short ticks pointing inwards like MATLAB
const frameTicks = {
  id: 'frameTicks',
  afterDatasetsDraw(chart) {
    const { ctx, chartArea: a, scales } = chart;
    const l = Math.round(a.left) + 0.5, r = Math.round(a.right) - 0.5;
    const t = Math.round(a.top) + 0.5, b = Math.round(a.bottom) - 0.5;
    ctx.save();
    ctx.strokeStyle = '#000';
    ctx.lineWidth = 1;
    ctx.beginPath();
    ctx.rect(l, t, r - l, b - t);
    scales.y.ticks.forEach(tk => {
      const py = Math.round(scales.y.getPixelForValue(tk.value)) + 0.5;
      ctx.moveTo(l, py); ctx.lineTo(l + 5, py);
      ctx.moveTo(r, py); ctx.lineTo(r - 5, py);
    });
    scales.x.ticks.forEach(tk => {
      const px = Math.round(scales.x.getPixelForValue(tk.value)) + 0.5;
      ctx.moveTo(px, b); ctx.lineTo(px, b - 5);
      ctx.moveTo(px, t); ctx.lineTo(px, t + 5);
    });
    ctx.stroke();
    ctx.restore();
  }
};

function toPoints(xs, ys) {
  return xs.map((x, i) => ({ x: x, y: ys[i] }));
}

function buildPanel(k) {
  const canvas = document.createElement('canvas');
  canvas.width = AXIS_W + BOX_W + PAD_R;
  canvas.height = CANVAS_H;
  canvas.style.left = (BOX_LEFTS[k] - AXIS_W) + 'px';
  document.getElementById('wrap').appendChild(canvas);

  const meanSet = {
    data: toPoints(xsMean, panelMeans[k]),
    borderColor: '#000',
    borderWidth: 1,
    pointStyle: 'star',
    pointRadius: 5.5,
    pointBorderColor: '#000',
    pointBorderWidth: 1,
    tension: 0.3,
    clip: false
  };
  const curveSets = panelCurves[k].map(vals => ({
    data: toPoints(xsCurve, vals),
    borderColor: '#000',
    borderWidth: 1,
    pointRadius: 0,
    tension: 0.4
  }));
  // first dataset is drawn last (on top); in G1L the mean sits under the bundle
  const datasets = k === 1 ? curveSets.concat([meanSet]) : [meanSet].concat(curveSets);

  new Chart(canvas.getContext('2d'), {
    type: 'line',
    data: { datasets: datasets },
    options: {
      responsive: false,
      animation: false,
      events: [],
      layout: { padding: { left: 0, right: PAD_R, top: 0, bottom: 0 } },
      scales: {
        x: {
          type: 'linear',
          min: 0,
          max: 6.2832,
          afterBuildTicks: s => { s.ticks = xTickValues.map(v => ({ value: v })); },
          afterFit: s => { s.height = CANVAS_H - BOX_BOTTOM; },
          grid: { display: false, drawTicks: false },
          border: { display: false },
          ticks: { color: '#000', padding: 6, maxRotation: 0, autoSkip: false,
                   font: { family: FONT, size: 20 }, callback: v => String(v) }
        },
        y: {
          type: 'linear',
          min: yMins[k],
          max: yMaxs[k],
          afterBuildTicks: s => { s.ticks = yTickLists[k].map(v => ({ value: v })); },
          afterFit: s => { s.width = AXIS_W; },
          grid: { display: false, drawTicks: false },
          border: { display: false },
          ticks: { color: '#000', padding: 6, autoSkip: false,
                   font: { family: FONT, size: 20 }, callback: v => String(v) }
        }
      },
      plugins: {
        legend: { display: false },
        tooltip: { enabled: false },
        title: {
          display: true,
          fullSize: false,
          text: panelTitles[k],
          color: '#000',
          font: { family: FONT, size: 19, weight: 'normal' },
          padding: { top: 10, bottom: 11 }
        }
      }
    },
    plugins: [frameTicks]
  });
}

for (let k = 0; k < panelTitles.length; k++) {
  buildPanel(k);
}
</script>
</body>
</html>
